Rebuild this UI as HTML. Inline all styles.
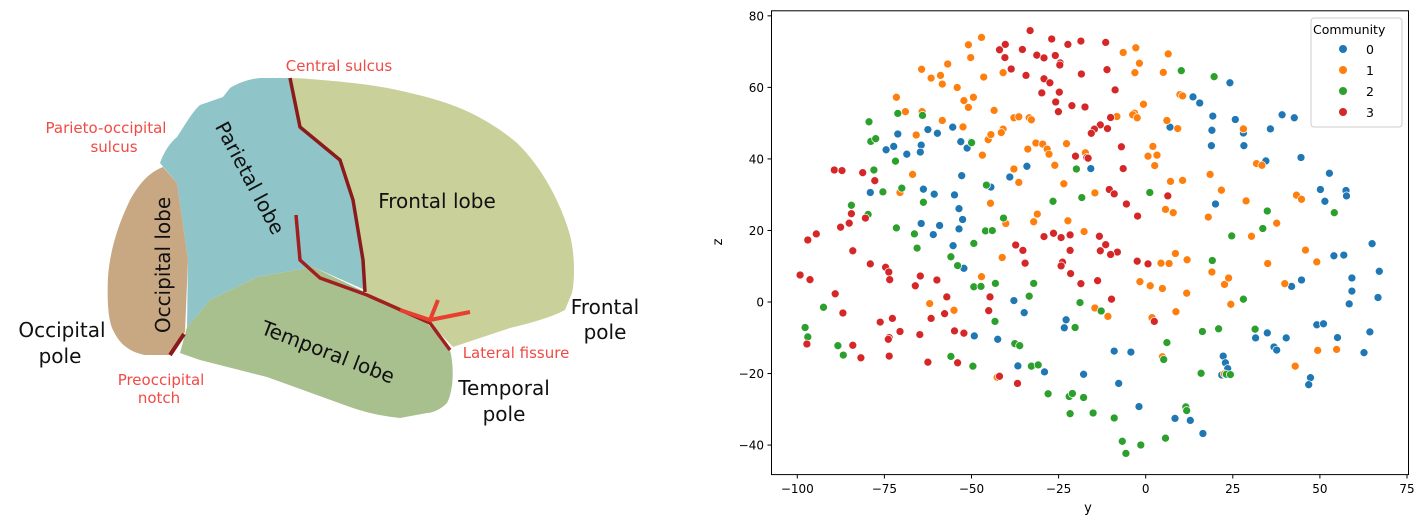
<!DOCTYPE html>
<html><head><meta charset="utf-8"><style>
body{margin:0;background:#fff;width:1422px;height:525px;overflow:hidden;font-family:"Liberation Sans","DejaVu Sans",sans-serif}
svg{position:absolute;left:0;top:0}
</style></head><body>
<svg id="s" width="1422" height="525" viewBox="0 0 1422 525" font-family="DejaVu Sans, Liberation Sans, sans-serif">
<!-- brain -->
<path d="M290,78 C300,78 325,80 353,83 C380,86 400,90 430,98 C460,106 490,120 517,143 C540,165 560,200 570,235 C576,260 574,285 572,293 L565,310 C550,318 530,323 510,328 L483,337 L453,347 L430,323 L367,293 L365,290 L363,260 L353,200 L340,160 L300,127 Z" fill="#c9d09a"/>
<path d="M160,163 C165,150 170,143 177,137 C185,125 192,112 200,105 L223,97 L230,88 C240,82 250,79 260,78 L290,78 L300,127 L340,160 L353,200 L363,260 L365,290 L313,267 L257,277 L210,300 L187,327 L188,260 L177,183 Z" fill="#8fc4c8"/>
<path d="M163,167 C150,172 140,182 130,200 C118,225 110,250 108,277 C107,300 108,320 113,330 C120,345 130,352 145,355 L170,355 L185,332 L188,260 L177,183 Z" fill="#c8a882"/>
<path d="M187,327 L210,300 L257,277 L313,267 L367,293 L427,323 L450,350 C454,365 454,390 447,403 C440,410 432,413 427,413 L400,418 C380,416 365,412 350,407 L267,377 L200,360 L180,353 Z" fill="#a8bf8e"/>
<path d="M290,78 L300,127 L340,160 L353,200 L363,260 L365,292" fill="none" stroke="#8b1a1a" stroke-width="3.5" stroke-linejoin="round"/>
<path d="M296,215 L300,260 L320,278 L367,295 L430,323 L450,350" fill="none" stroke="#a02020" stroke-width="3.5" stroke-linejoin="round"/>
<path d="M400,310 L430,320 L438,300 M430,320 L470,312" fill="none" stroke="#e8402e" stroke-width="4"/>
<path d="M170,355 L184,334" stroke="#8b1a1a" stroke-width="4"/>
<g fill="#f04a45" font-size="15" text-anchor="middle">
<text x="339" y="71">Central sulcus</text>
<text x="106" y="133">Parieto-occipital</text>
<text x="114" y="152">sulcus</text>
<text x="516" y="358">Lateral fissure</text>
<text x="161" y="385">Preoccipital</text>
<text x="159" y="403">notch</text>
</g>
<g fill="#111" font-size="20" text-anchor="middle">
<text x="437" y="208">Frontal lobe</text>
<text x="62" y="337">Occipital</text>
<text x="60" y="363">pole</text>
<text x="605" y="314">Frontal</text>
<text x="605" y="339">pole</text>
<text x="504" y="395">Temporal</text>
<text x="504" y="421">pole</text>
<text transform="translate(163,265) rotate(-90)" y="7">Occipital lobe</text>
<text transform="translate(250,178) rotate(62)" y="7">Parietal lobe</text>
<text transform="translate(328,352) rotate(21)" y="7">Temporal lobe</text>
</g>
<!-- axes -->
<g id="pts"></g>
<rect x="771.5" y="10.8" width="637" height="463.8" fill="none" stroke="#000" stroke-width="1"/>
<g font-size="12" fill="#000" id="ticks"></g>
<text x="1088" y="512" font-size="13" text-anchor="middle">y</text>
<text transform="translate(722,242) rotate(-90)" font-size="13" text-anchor="middle">z</text>
<rect x="1311" y="18" width="91" height="109" rx="3" fill="#fff" fill-opacity="0.85" stroke="#ccc"/>
<text x="1313" y="34" font-size="12.5">Community</text>
<g font-size="12.5">
<circle cx="1343" cy="49" r="4" fill="#1f77b4"/><text x="1366" y="54">0</text>
<circle cx="1343" cy="70" r="4" fill="#ff7f0e"/><text x="1366" y="75">1</text>
<circle cx="1343" cy="91" r="4" fill="#2ca02c"/><text x="1366" y="96">2</text>
<circle cx="1343" cy="112" r="4" fill="#d62728"/><text x="1366" y="117">3</text>
</g>
</svg>
<script>
var NS="http://www.w3.org/2000/svg",g=document.getElementById("pts"),tk=document.getElementById("ticks");
function el(n,a,p,t){var e=document.createElementNS(NS,n);for(var k in a)e.setAttribute(k,a[k]);if(t!=null)e.textContent=t;p.appendChild(e);return e;}
var D={"#1f77b4":[1133,246,1051,288,1066,306,1095,345,1145,355,1000,378,1093,387,1163,395,1249,341,1276,350,1223,383,1092,433,1164,433,1213,478,1291,468,1354,515,1334,563,1344,598,1391,566,1392,582,1101,606,1449,724,1364,760,1386,758,1465,806,1404,826,1292,832,1270,851,1404,865,1398,903,1462,884,1326,965,1341,962,1372,1003,1444,986,1431,1048,1216,989,1258,1004,1190,1004,1231,1031,1237,1040,1118,1058,1123,1078,1128,1095,1115,1114,1312,1122,1308,1143,931,1208,1011,1243,1045,1249,1073,1288,876,1043,913,1046,886,1139,808,1112,721,1105,662,1087,617,1008,565,998,676,929,653,893,769,950,765,974,542,797,518,730,531,680,539,652,531,620,521,579,537,522,476,577,452,562,447,664,488,670,474,697,644,526,682,494,824,501,602,556,517,378,535,421,549,440,483,396,462,385,447,431,445,452,415,458,386,435,369,445,395,398,334,572,558,422],
"#ff7f0e":[581,111,552,133,557,171,506,190,448,206,469,232,490,224,494,250,527,260,586,229,542,299,552,319,563,289,392,289,412,332,449,332,494,358,540,377,436,401,596,415,602,400,629,384,625,394,609,328,629,216,653,350,664,347,687,350,692,356,702,425,717,428,727,443,731,458,770,427,744,491,684,443,653,502,664,542,583,461,428,518,400,572,601,604,635,664,705,636,697,659,764,546,773,656,809,688,833,573,812,454,581,822,627,765,466,902,520,922,616,1121,833,915,862,940,896,156,924,142,932,188,922,216,996,160,985,215,941,310,921,336,917,341,927,350,882,346,993,358,1017,382,1022,281,1028,285,962,435,951,464,971,461,966,492,1001,539,1028,536,990,622,1007,632,1089,518,1114,565,1085,645,1169,597,1192,486,1204,491,1163,383,1281,580,1292,592,1237,663,1181,702,1301,743,1326,778,1217,783,1255,843,1121,845,1130,826,1093,808,1135,904,1038,772,1012,753,980,782,998,783,1037,871,983,857,956,849,933,837,1013,926,960,944,983,1060,1328,1041,1370,1038,1278,1088,1121,1111],
"#2ca02c":[1025,210,1098,228,331,362,395,337,450,343,335,420,346,412,559,424,390,479,342,505,404,559,362,570,452,601,292,610,329,637,392,677,432,695,438,737,592,550,630,648,590,686,605,685,564,723,513,763,528,789,564,852,580,851,612,842,697,842,687,880,611,955,230,913,189,973,195,1001,262,1027,274,1055,513,1059,562,1088,655,1021,666,1027,692,1088,707,1084,729,1170,776,1178,783,1169,808,1181,778,1229,829,1227,876,1242,894,1311,902,1347,935,1322,990,1302,1035,1209,1037,1220,1069,1109,1125,1112,1134,1113,1072,985,1108,977,993,1018,986,1068,1163,889,1189,978,1094,774,1137,701,1206,679,1216,627,1365,632,955,572,792,502,804,587,740,598,800,899,847,924,789,973],
"#d62728":[689,91,737,116,802,122,857,126,773,132,634,132,621,148,633,171,672,147,704,164,720,172,745,165,756,187,755,193,647,205,680,224,720,234,733,246,715,276,754,274,746,303,752,332,782,314,811,318,803,220,860,207,878,267,868,349,861,382,845,371,832,384,825,396,892,436,896,501,790,464,815,468,818,470,865,563,876,576,903,606,928,642,995,582,927,776,951,784,857,727,843,702,845,745,883,749,868,756,839,834,870,889,965,955,778,698,741,693,720,703,758,706,778,744,761,779,758,790,779,813,802,843,657,728,673,744,678,782,597,923,600,882,469,946,499,932,504,882,482,832,445,820,434,849,444,994,462,1076,528,1078,521,983,542,990,661,1139,621,1118,254,505,271,507,317,513,344,537,214,695,195,713,268,675,287,663,292,635,323,648,295,745,334,784,368,794,375,808,377,831,178,817,200,831,256,873,273,930,383,946,400,985,376,1003,374,1008,295,1026,313,1063,376,1058,193,1022,356,957]};
for(var c in D){var a=D[c];for(var i=0;i<a.length;i+=2)el("circle",{cx:(720+a[i]/2.222).toFixed(1),cy:(a[i+1]/2.971).toFixed(1),r:4,fill:c,stroke:"#fff","stroke-width":0.7},g);}
for(var v=-100;v<=75;v+=25){var x=1145.7+v*3.484;el("line",{x1:x,x2:x,y1:474.6,y2:478.5,stroke:"#000"},tk);el("text",{x:x,y:493,"text-anchor":"middle"},tk,(v<0?"\u2212"+(-v):v));}
for(var v=-40;v<=80;v+=20){var y=302+(-v)*3.577;el("line",{x1:767.5,x2:771.5,y1:y,y2:y,stroke:"#000"},tk);el("text",{x:764,y:y+4.5,"text-anchor":"end"},tk,(v<0?"\u2212"+(-v):v));}
</script>
</body></html>
